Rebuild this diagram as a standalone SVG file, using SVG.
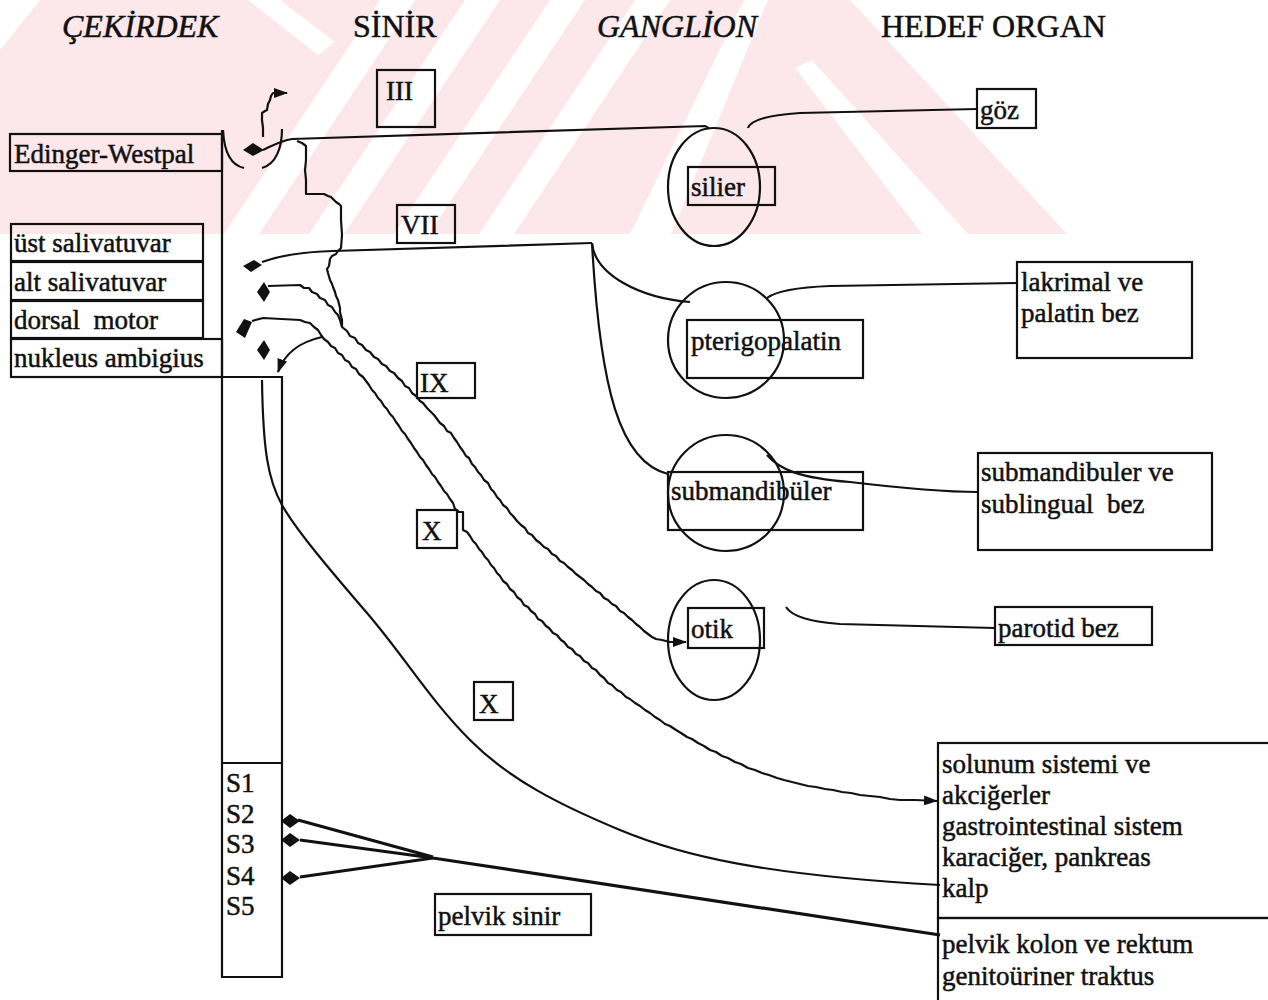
<svg xmlns="http://www.w3.org/2000/svg" width="1268" height="1000" viewBox="0 0 1268 1000">
<style>
text{font-family:"Liberation Serif","Times New Roman",serif;fill:#111;stroke:#111;stroke-width:0.5;}
.h{font-size:32px;}
.hi{font-size:32px;font-style:italic;}
.t{font-size:27px;white-space:pre;}
.box{fill:none;stroke:#111;stroke-width:2.2;}
.ln{fill:none;stroke:#111;stroke-width:2.2;}
.thick{fill:none;stroke:#111;stroke-width:3.2;}
.jag{fill:none;stroke:#111;stroke-width:2.2;stroke-linejoin:round;}
.dia{fill:#111;}
.gang{fill:none;stroke:#111;stroke-width:2.2;}
.wm{fill:#fce7ea;}
.wmw{fill:#fff;}
</style>
<defs>
<marker id="arr" markerWidth="14" markerHeight="10" refX="13" refY="5" orient="auto" markerUnits="userSpaceOnUse">
<path d="M0,0 L14,5 L0,10 z" fill="#111"/>
</marker>
</defs>
<rect width="1268" height="1000" fill="#fff"/>
<g id="watermark">
<polygon class="wm" points="0,50 40,0 850,0 1067,234 0,234"/>
<polygon class="wmw" points="248,0 280,0 335,42 318,55"/>
<polygon class="wmw" points="380,0 415,0 259,234 224,234"/>
<polygon class="wmw" points="465,0 500,0 344,234 309,234"/>
<polygon class="wmw" points="550,0 585,0 429,234 394,234"/>
<polygon class="wmw" points="635,0 670,0 514,234 479,234"/>
<polygon class="wmw" points="744,0 768,0 671,234 630,234"/>
<polygon class="wmw" points="795,68 812,60 968,234 922,234"/>
<polygon class="wmw" points="0,0 40,0 0,50"/>
</g>
<g id="headers">
<text x="62" y="37" class="hi">ÇEKİRDEK</text>
<text x="353" y="37" class="h">SİNİR</text>
<text x="597" y="37" class="hi">GANGLİON</text>
<text x="881" y="37" class="h">HEDEF ORGAN</text>
</g>
<g id="nuclei">
<g id="n-edinger"><rect class="box" x="10" y="134" width="212" height="37"/><text class="t" x="14" y="163">Edinger-Westpal</text></g>
<g id="n-ust"><rect class="box" x="11" y="224" width="192" height="37"/><text class="t" x="14" y="252">üst salivatuvar</text></g>
<g id="n-alt"><rect class="box" x="11" y="262" width="192" height="38"/><text class="t" x="14" y="291">alt salivatuvar</text></g>
<g id="n-dorsal"><rect class="box" x="11" y="301" width="192" height="37"/><text class="t" x="14" y="329">dorsal  motor</text></g>
<g id="n-nukleus"><rect class="box" x="11" y="339" width="211" height="38"/><text class="t" x="14" y="367">nukleus ambigius</text></g>
<g id="n-column">
<path class="box" d="M222,130 L222,977 L282,977 L282,377 L222,377"/>
<line class="box" x1="222" y1="763" x2="282" y2="763"/>
<text class="t" x="226" y="792">S1</text>
<text class="t" x="226" y="823">S2</text>
<text class="t" x="226" y="853">S3</text>
<text class="t" x="226" y="885">S4</text>
<text class="t" x="226" y="915">S5</text>
</g>
</g>
<g id="nerves">
<g id="l-III"><rect class="box" x="377" y="70" width="58" height="57"/><text class="t" x="386" y="100">III</text></g>
<g id="l-VII"><rect class="box" x="397" y="205" width="58" height="38"/><text class="t" x="401" y="234">VII</text></g>
<g id="l-IX"><rect class="box" x="417" y="363" width="58" height="35"/><text class="t" x="420" y="392">IX</text></g>
<g id="l-X1"><rect class="box" x="417" y="510" width="40" height="38"/><text class="t" x="422" y="540">X</text></g>
<g id="l-X2"><rect class="box" x="474" y="682" width="39" height="38"/><text class="t" x="479" y="713">X</text></g>
<g id="l-pelvik"><rect class="box" x="435" y="894" width="156" height="41"/><text class="t" x="438" y="925">pelvik sinir</text></g>
</g>
<g id="ganglia">
<g id="g-silier"><ellipse class="gang" cx="714" cy="187" rx="46" ry="59"/><rect class="box" x="688" y="167" width="87" height="38"/><text class="t" x="691" y="196">silier</text></g>
<g id="g-pterigo"><circle class="gang" cx="726" cy="340" r="58"/><rect class="box" x="687" y="320" width="176" height="58"/><text class="t" x="691" y="350">pterigopalatin</text></g>
<g id="g-submand"><circle class="gang" cx="726" cy="493" r="58"/><rect class="box" x="668" y="472" width="195" height="58"/><text class="t" x="671" y="500">submandibüler</text></g>
<g id="g-otik"><ellipse class="gang" cx="714" cy="640" rx="46" ry="60"/><rect class="box" x="688" y="608" width="76" height="40"/><text class="t" x="691" y="638">otik</text></g>
</g>
<g id="targets">
<g id="t-goz"><rect class="box" x="977" y="89" width="59" height="39"/><text class="t" x="980" y="119">göz</text></g>
<g id="t-lakrimal"><rect class="box" x="1017" y="262" width="175" height="96"/><text class="t" x="1021" y="291">lakrimal ve</text><text class="t" x="1021" y="322">palatin bez</text></g>
<g id="t-sublingual"><rect class="box" x="978" y="453" width="234" height="97"/><text class="t" x="981" y="481">submandibuler ve</text><text class="t" x="981" y="513">sublingual  bez</text></g>
<g id="t-parotid"><rect class="box" x="995" y="607" width="157" height="38"/><text class="t" x="998" y="637">parotid bez</text></g>
<g id="t-solunum"><rect class="box" x="938" y="743" width="345" height="175"/><text class="t" x="942" y="773">solunum sistemi ve</text><text class="t" x="942" y="804">akciğerler</text><text class="t" x="942" y="835">gastrointestinal sistem</text><text class="t" x="942" y="866">karaciğer, pankreas</text><text class="t" x="942" y="897">kalp</text></g>
<g id="t-pelvik"><rect class="box" x="938" y="918" width="345" height="100"/><text class="t" x="942" y="953">pelvik kolon ve rektum</text><text class="t" x="942" y="985">genitoüriner traktus</text></g>
</g>
<g id="connectors">
<path class="dia" d="M243,150 L253,143 L264,150 L253,156 z"/>
<path class="dia" d="M243,266 L254,260 L262,265 L251,272 z"/>
<path class="dia" d="M257,292 L264,282 L270,292 L264,302 z"/>
<path class="dia" d="M236,332 L244,319 L252,322 L245,338 z"/>
<path class="dia" d="M257,350 L264,340 L270,350 L264,360 z"/>
<path class="dia" d="M281,821 L290,814 L300,821 L290,828 z"/>
<path class="dia" d="M281,840 L290,833 L300,840 L290,847 z"/>
<path class="dia" d="M281,878 L290,871 L300,878 L290,885 z"/>
<path class="ln" d="M223,130 C224,150 230,165 244,168"/>
<path class="ln" d="M282,129 C282,148 276,164 262,168"/>
<path class="ln" d="M263,150 C272,146 280,141 292,139 L705,126 Q708,127 709,129"/>
<polyline class="jag" points="263,137 263,128 262,120 262,113 265,111 267,110 268,104 270,100 271,96 273,93 287,93" marker-end="url(#arr)"/>
<path class="ln" d="M748,128 Q752,116 800,113 L977,109"/>
<polyline class="jag" points="297,141 302,143 306,146 306,160 305,170 306,180 306,194 315,194 324,194 328,196 331,197 334,200 336,202 339,204 341,206 341,220 342,235 341,248 338,251 336,254 332,256 330,259 329,266 327,269 328,273 330,280 332,284 333,287 335,292 336,296 338,300 339,304 340,308 340,312 341,316 342,320 342,327"/>
<path class="ln" d="M262,262 Q290,252 333,251 L592,243"/>
<path class="ln" d="M592,243 C595,275 640,298 690,302"/>
<path class="ln" d="M592,243 C600,390 620,462 668,474"/>
<path class="ln" d="M767,298 Q780,288 830,286 L1017,283"/>
<path class="ln" d="M767,455 C780,470 800,478 850,482 C900,488 940,492 978,492"/>
<path class="ln" d="M786,607 Q795,621 840,624 L995,628"/>
<polyline class="jag" marker-end="url(#arr)" points="268,286 300,285 304,288 309,288 312,292 317,294 320,298 325,300 328,305 332,307 335,312 338,315 340,320 342,327 347,331 350,336 355,338 358,343 362,345 366,350 370,352 374,357 378,359 382,364 386,366 390,371 394,373 398,378 402,381 405,386 409,388 412,393 416,396 420,401 423,403 427,408 430,411 434,415 437,419 440,423 444,426 447,431 451,433 454,438 457,442 460,447 463,451 466,456 469,458 472,464 475,467 478,472 481,475 484,480 488,483 491,489 494,492 497,497 500,500 503,505 507,508 510,513 513,516 517,521 521,525 525,528 528,533 532,535 536,540 540,543 544,547 548,549 552,554 556,556 560,561 564,563 568,567 572,570 576,574 580,577 584,580 588,584 592,587 596,591 600,593 604,598 608,600 612,604 616,606 620,611 624,613 628,617 632,620 636,624 640,627 644,631 648,634 652,637 656,639 662,640 670,642 686,642"/>
<polyline class="jag" marker-end="url(#arr)" points="252,321 263,318 300,320 305,322 310,323 314,327 318,330 321,335 324,339 328,342 331,346 335,348 338,353 342,355 345,360 349,362 352,367 356,369 359,374 363,377 366,381 369,385 372,390 375,393 378,398 381,401 384,406 387,409 390,414 393,417 396,422 399,426 402,431 405,434 408,439 411,443 414,448 417,452 420,457 423,460 426,465 429,469 432,474 435,477 438,482 441,486 444,491 447,494 450,499 453,503 455,509 459,512 463,512 463,530 467,532 470,536 473,541 476,544 479,549 482,552 485,557 488,560 491,565 494,568 497,573 500,576 503,581 507,584 510,589 514,592 517,597 521,600 524,605 528,607 531,611 535,614 538,619 542,621 546,626 549,628 553,633 557,635 561,640 564,642 568,647 572,649 576,654 580,656 584,661 588,663 592,668 596,670 600,675 604,678 608,683 612,685 617,690 621,692 626,697 630,699 635,703 640,706 645,710 650,713 655,717 660,720 665,724 670,726 676,730 681,733 687,737 692,739 698,743 704,746 710,750 716,752 722,756 728,758 735,762 741,764 748,768 755,770 762,773 769,775 777,778 784,780 792,782 800,784 808,786 816,787 825,789 833,790 842,792 851,793 860,795 870,796 880,797 890,799 900,800 915,800 937,801"/>
<path class="ln" d="M322,337 C300,342 285,352 278,372" marker-end="url(#arr)"/>
<path class="ln" d="M262,380 C263,450 268,480 282,505 S330,570 367,613 S430,700 470,740 S560,805 620,830 S760,875 940,885"/>
<path class="thick" d="M298,820 L433,857 M300,840 L433,858 M300,877 L433,858 L940,935"/>
</g>
</svg>
